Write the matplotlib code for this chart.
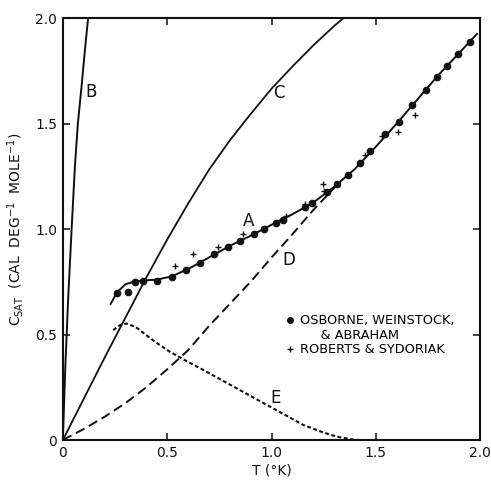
import matplotlib
matplotlib.use("Agg")
import matplotlib.pyplot as plt
from matplotlib.lines import Line2D

plt.rcParams['font.family'] = ['DejaVu Sans']
plt.rcParams['lines.scale_dashes'] = False

# curve A: smooth curve through the measured points
a_t = [0.229, 0.26, 0.3, 0.345, 0.4, 0.45, 0.52, 0.6, 0.7, 0.8, 0.9, 1.0, 1.1,
       1.2, 1.3, 1.4, 1.5, 1.6, 1.7, 1.8, 1.9, 1.985]
a_c = [0.645, 0.7, 0.738, 0.752, 0.757, 0.76, 0.775, 0.81, 0.865, 0.92, 0.968,
       1.02, 1.07, 1.125, 1.2, 1.285, 1.39, 1.5, 1.615, 1.73, 1.835, 1.925]

# curve B
b_t = [0.0, 0.012, 0.025, 0.042, 0.058, 0.072, 0.09, 0.105, 0.121]
b_c = [0.0, 0.35, 0.66, 1.0, 1.3, 1.5, 1.68, 1.84, 2.0]

# curve C
c_t = [0.0, 0.1, 0.2, 0.3, 0.4, 0.5, 0.6, 0.7, 0.8, 0.9, 1.0, 1.1, 1.2, 1.3, 1.345]
c_c = [0.0, 0.195, 0.39, 0.58, 0.77, 0.95, 1.12, 1.28, 1.42, 1.545, 1.665, 1.77,
       1.87, 1.962, 2.0]

# curve D (dashed)
d_t = [0.0, 0.1, 0.2, 0.3, 0.4, 0.5, 0.6, 0.7, 0.8, 0.9, 1.0, 1.1, 1.2, 1.32]
d_c = [0.0, 0.052, 0.11, 0.175, 0.25, 0.335, 0.425, 0.54, 0.645, 0.75, 0.865,
       0.975, 1.09, 1.215]

# curve E (short dashes)
e_t = [0.241, 0.275, 0.305, 0.35, 0.441, 0.513, 0.6, 0.673, 0.833, 0.993, 1.153,
       1.25, 1.313, 1.385, 1.42]
e_c = [0.521, 0.545, 0.552, 0.535, 0.466, 0.418, 0.37, 0.332, 0.245, 0.158, 0.071,
       0.035, 0.016, 0.003, 0.0]

# Osborne, Weinstock & Abraham (dots)
owa_t = [0.26, 0.313, 0.345, 0.382, 0.449, 0.524, 0.59, 0.657, 0.724, 0.793, 0.849,
         0.916, 0.964, 1.02, 1.057, 1.16, 1.196, 1.268, 1.313, 1.368, 1.424, 1.474,
         1.544, 1.613, 1.672, 1.741, 1.792, 1.843, 1.893, 1.952]
owa_c = [0.698, 0.703, 0.75, 0.754, 0.755, 0.774, 0.806, 0.84, 0.88, 0.916, 0.945,
         0.976, 1.0, 1.03, 1.043, 1.106, 1.122, 1.177, 1.213, 1.256, 1.311, 1.368,
         1.449, 1.509, 1.588, 1.659, 1.722, 1.774, 1.828, 1.885]

# Roberts & Sydoriak (plus)
rs_t = [0.537, 0.625, 0.745, 0.865, 1.07, 1.16, 1.245, 1.252, 1.448, 1.528, 1.606, 1.688]
rs_c = [0.826, 0.88, 0.916, 0.976, 1.062, 1.118, 1.213, 1.18, 1.351, 1.442, 1.458, 1.54]

curve_labels = ['A', 'B', 'C', 'D', 'E']
label_t = [0.889, 0.133, 1.033, 1.085, 1.02]
label_c = [1.04, 1.648, 1.643, 0.853, 0.197]

ticks = [0, 0.5, 1.0, 1.5, 2.0]
tick_text = ['0', '0.5', '1.0', '1.5', '2.0']

ink = '#111111'

fig = plt.figure(figsize=(4.91, 4.80), dpi=100)
ax = fig.add_axes([0.128, 0.0833, 0.85, 0.8792])

ax.plot(a_t, a_c, color=ink, lw=1.4)
ax.plot(b_t, b_c, color=ink, lw=1.4)
ax.plot(c_t, c_c, color=ink, lw=1.3)
ax.plot(d_t, d_c, color=ink, lw=1.4, dashes=(7, 3.6))
ax.plot(e_t, e_c, color=ink, lw=1.5, dashes=(2.8, 1.8))
ax.plot(owa_t, owa_c, 'o', color=ink, ms=4.5, zorder=3)
ax.plot(rs_t, rs_c, '+', color=ink, ms=5, mew=1.0, zorder=3)

for lab, t, c in zip(curve_labels, label_t, label_c):
    ax.text(t, c, lab, fontsize=12, ha='center', va='center', color=ink)

ax.set_xlim(0, 2.0)
ax.set_ylim(0, 2.0)
ax.set_xticks(ticks)
ax.set_xticklabels(tick_text)
ax.set_yticks(ticks)
ax.set_yticklabels(tick_text)
ax.tick_params(direction='in', length=5, width=1.1, top=True, right=True,
               labelsize=10, pad=4, colors=ink)
for s in ax.spines.values():
    s.set_linewidth(1.5)
    s.set_color(ink)

ax.set_xlabel('T (°K)', fontsize=10, labelpad=3, color=ink)
ax.set_ylabel(r'C$_{\mathregular{SAT}}$  (CAL  DEG$^{\mathregular{-1}}$  MOLE$^{\mathregular{-1}}$)',
              fontsize=10, labelpad=7, color=ink)

handles = [Line2D([], [], marker='o', ls='none', color=ink, ms=4),
           Line2D([], [], ls='none'),
           Line2D([], [], marker='+', ls='none', color=ink, ms=5, mew=1.0)]
names = ['OSBORNE, WEINSTOCK,', '     & ABRAHAM', 'ROBERTS & SYDORIAK']
ax.legend(handles, names, loc='upper left', bbox_to_anchor=(0.535, 0.298),
          frameon=False, fontsize=9.3, handlelength=0.6, handletextpad=0.5,
          labelspacing=0.12, borderpad=0, borderaxespad=0)

fig.savefig('out.png', dpi=100, facecolor='white')
